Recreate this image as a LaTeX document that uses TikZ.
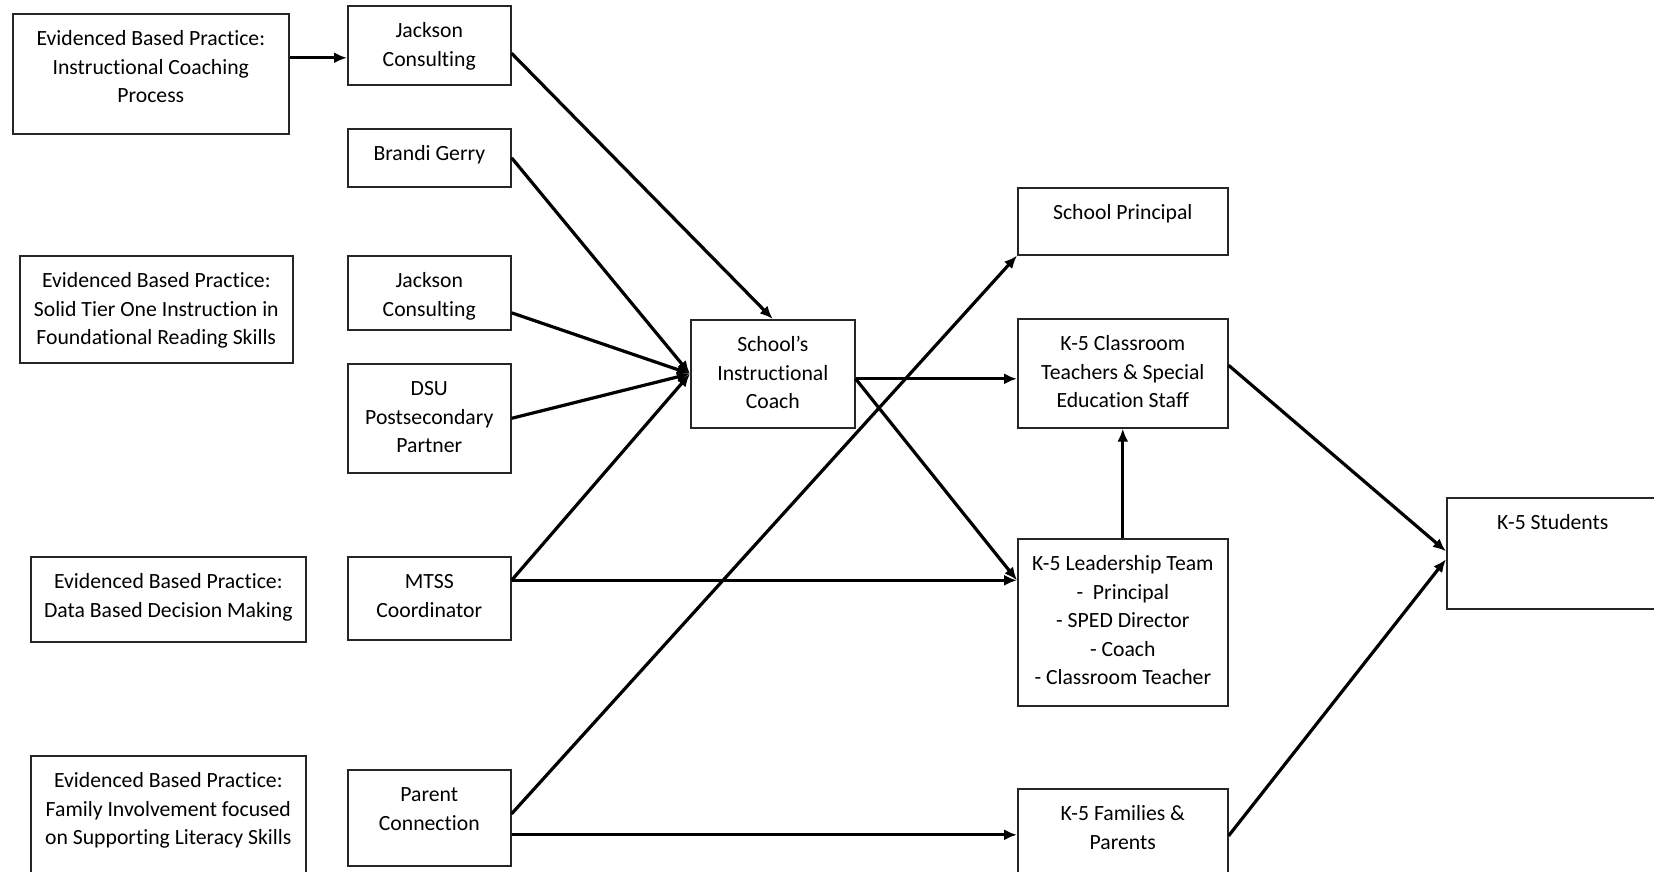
\documentclass[tikz,border=0pt]{standalone}
\usepackage{fontspec}
\setmainfont{Carlito}[Ligatures={NoCommon,NoContextual}]
\usetikzlibrary{arrows.meta}
\tikzset{
  box/.style={draw=black!85, line width=1.6pt, anchor=north west, inner sep=0pt, fill=white},
  arr/.style={line width=3.2pt, -{Latex[length=13pt,width=11pt]}},
  every node/.style={font=\fontsize{21.7}{28.5}\selectfont}
}
\newcommand{\mybox}[6]{%
  \node[box] (#1) at (#2,#3) {\parbox[t][\dimexpr#5pt-#3pt\relax][t]{\dimexpr#4pt-#2pt\relax}{\centering\vspace*{12pt}\strut #6}};}
\begin{document}
\begin{tikzpicture}[x=1pt,y=-1pt]
\useasboundingbox (0,0) rectangle (1654,871);
\mybox{ebp1}{12}{13}{288}{133}{Evidenced Based Practice:\\Instructional Coaching\\Process}
\mybox{jack1}{347}{5}{510}{84}{Jackson\\Consulting}
\mybox{brandi}{347}{128}{510}{186}{Brandi Gerry}
\mybox{ebp2}{19}{255}{292}{362}{Evidenced Based Practice:\\Solid Tier One Instruction in\\Foundational Reading Skills}
\mybox{jack2}{347}{255}{510}{329}{Jackson\\Consulting}
\mybox{dsu}{347}{363}{510}{472}{DSU\\Postsecondary\\Partner}
\mybox{ebp3}{30}{556}{305}{641}{Evidenced Based Practice:\\Data Based Decision Making}
\mybox{mtss}{347}{556}{510}{639}{MTSS\\Coordinator}
\mybox{ebp4}{30}{755}{305}{876}{Evidenced Based Practice:\\Family Involvement focused\\on Supporting Literacy Skills}
\mybox{parent}{347}{769}{510}{865}{Parent\\Connection}
\mybox{coach}{690}{319}{854}{427}{School’s\\Instructional\\Coach}
\mybox{principal}{1017}{187}{1227}{254}{School Principal}
\mybox{class}{1017}{318}{1227}{427}{K-5 Classroom\\Teachers \& Special\\Education Staff}
\mybox{lead}{1017}{538}{1227}{705}{K-5 Leadership Team\\-\ \ Principal\\- SPED Director\\- Coach\\- Classroom Teacher}
\mybox{fam}{1017}{788}{1227}{876}{K-5 Families \&\\Parents}
\mybox{students}{1446}{497}{1658}{608}{K-5 Students}

\coordinate (s1) at ([yshift=16pt]ebp1.east);
\draw[arr] (s1) -- (s1 -| jack1.west);
\draw[arr] ([yshift=-8pt]jack1.east) -- (coach.north);
\draw[arr] (brandi.east) -- (coach.west);
\draw[arr] ([yshift=-20pt]jack2.east) -- (coach.west);
\draw[arr] (dsu.east) -- (coach.west);
\coordinate (m) at ([yshift=18pt]mtss.east);
\draw[arr] (m) -- (coach.west);
\draw[arr] (m) -- (m -| lead.west);
\coordinate (p) at ([yshift=-17pt]parent.east);
\draw[arr] ([yshift=4pt]parent.east) -- (principal.south west);
\draw[arr] (p) -- (p -| fam.west);
\coordinate (c) at ([yshift=-5pt]coach.east);
\draw[arr] (c) -- (c -| class.west);
\draw[arr] (c) -- (m -| lead.west);
\draw[arr] (lead.north) -- (class.south);
\draw[arr] ([yshift=8pt]class.east) -- ([yshift=2pt]students.west);
\draw[arr] ([yshift=-3pt]fam.east) -- ([yshift=-6pt]students.west);
\end{tikzpicture}
\end{document}
